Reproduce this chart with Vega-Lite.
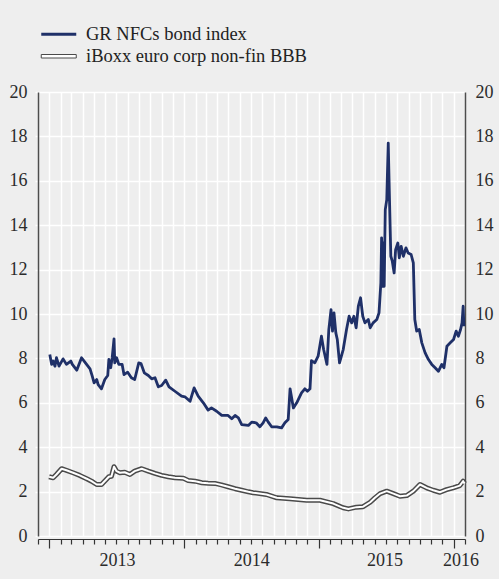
{
  "$schema": "https://vega.github.io/schema/vega-lite/v6.json",
  "width": 427,
  "height": 444,
  "autosize": {"type": "none"},
  "padding": {"left": 38, "top": 92, "right": 34, "bottom": 43},
  "background": "#eeeeee",
  "config": {
    "view": {"stroke": null, "fill": "#eeeeee"},
    "font": "Liberation Serif",
    "axis": {
      "labelFont": "Liberation Serif",
      "labelFontSize": 18,
      "labelColor": "#2b2b2b",
      "title": null,
      "gridColor": "#ffffff",
      "gridWidth": 1.5,
      "gridOpacity": 1
    }
  },
  "datasets": {
    "gr": [
      {"date": "2013-01-02", "v": 8.18}, {"date": "2013-01-07", "v": 7.73}, {"date": "2013-01-11", "v": 7.88},
      {"date": "2013-01-16", "v": 7.65}, {"date": "2013-01-20", "v": 8.03}, {"date": "2013-01-27", "v": 7.65},
      {"date": "2013-02-07", "v": 7.98}, {"date": "2013-02-16", "v": 7.73}, {"date": "2013-02-28", "v": 7.88},
      {"date": "2013-03-04", "v": 7.73}, {"date": "2013-03-16", "v": 7.47}, {"date": "2013-03-29", "v": 8.03},
      {"date": "2013-04-07", "v": 7.83}, {"date": "2013-04-21", "v": 7.53}, {"date": "2013-04-27", "v": 7.2},
      {"date": "2013-05-02", "v": 6.9}, {"date": "2013-05-09", "v": 7.05}, {"date": "2013-05-13", "v": 6.82},
      {"date": "2013-05-22", "v": 6.63}, {"date": "2013-05-31", "v": 7.05}, {"date": "2013-06-08", "v": 7.23},
      {"date": "2013-06-11", "v": 7.95}, {"date": "2013-06-16", "v": 7.58}, {"date": "2013-06-20", "v": 8.03},
      {"date": "2013-06-25", "v": 8.88}, {"date": "2013-06-27", "v": 7.8}, {"date": "2013-07-02", "v": 8.03},
      {"date": "2013-07-08", "v": 7.73}, {"date": "2013-07-17", "v": 7.73}, {"date": "2013-07-22", "v": 7.27},
      {"date": "2013-08-01", "v": 7.38}, {"date": "2013-08-11", "v": 7.13}, {"date": "2013-08-20", "v": 7.05},
      {"date": "2013-08-31", "v": 7.8}, {"date": "2013-09-06", "v": 7.77}, {"date": "2013-09-15", "v": 7.35},
      {"date": "2013-09-26", "v": 7.23}, {"date": "2013-10-05", "v": 7.08}, {"date": "2013-10-14", "v": 7.13},
      {"date": "2013-10-23", "v": 6.72}, {"date": "2013-11-01", "v": 6.78}, {"date": "2013-11-12", "v": 7.02},
      {"date": "2013-11-21", "v": 6.72}, {"date": "2013-12-07", "v": 6.52}, {"date": "2013-12-25", "v": 6.3},
      {"date": "2014-01-03", "v": 6.27}, {"date": "2014-01-17", "v": 6.07}, {"date": "2014-01-28", "v": 6.67},
      {"date": "2014-02-08", "v": 6.3}, {"date": "2014-02-22", "v": 6.0}, {"date": "2014-03-07", "v": 5.67},
      {"date": "2014-03-16", "v": 5.77}, {"date": "2014-03-30", "v": 5.62}, {"date": "2014-04-13", "v": 5.43},
      {"date": "2014-04-30", "v": 5.43}, {"date": "2014-05-10", "v": 5.28}, {"date": "2014-05-19", "v": 5.43},
      {"date": "2014-05-28", "v": 5.32}, {"date": "2014-06-06", "v": 5.02}, {"date": "2014-06-24", "v": 4.98},
      {"date": "2014-07-03", "v": 5.13}, {"date": "2014-07-15", "v": 5.1}, {"date": "2014-07-25", "v": 4.92},
      {"date": "2014-08-03", "v": 5.1}, {"date": "2014-08-10", "v": 5.32}, {"date": "2014-08-17", "v": 5.13},
      {"date": "2014-08-26", "v": 4.92}, {"date": "2014-09-09", "v": 4.92}, {"date": "2014-09-22", "v": 4.87},
      {"date": "2014-10-01", "v": 5.1}, {"date": "2014-10-10", "v": 5.25}, {"date": "2014-10-15", "v": 6.63},
      {"date": "2014-10-24", "v": 5.77}, {"date": "2014-11-02", "v": 6.0}, {"date": "2014-11-15", "v": 6.45},
      {"date": "2014-11-24", "v": 6.63}, {"date": "2014-12-01", "v": 6.52}, {"date": "2014-12-08", "v": 6.63},
      {"date": "2014-12-12", "v": 7.9}, {"date": "2014-12-21", "v": 7.8}, {"date": "2014-12-30", "v": 8.1},
      {"date": "2015-01-08", "v": 9.0}, {"date": "2015-01-14", "v": 8.4}, {"date": "2015-01-23", "v": 7.73},
      {"date": "2015-01-28", "v": 9.3}, {"date": "2015-02-03", "v": 10.2}, {"date": "2015-02-07", "v": 9.23},
      {"date": "2015-02-11", "v": 10.05}, {"date": "2015-02-16", "v": 9.15}, {"date": "2015-02-20", "v": 8.85},
      {"date": "2015-02-26", "v": 7.8}, {"date": "2015-03-08", "v": 8.4}, {"date": "2015-03-17", "v": 9.3},
      {"date": "2015-03-24", "v": 9.9}, {"date": "2015-03-31", "v": 9.6}, {"date": "2015-04-06", "v": 9.9},
      {"date": "2015-04-12", "v": 9.38}, {"date": "2015-04-18", "v": 10.35}, {"date": "2015-04-24", "v": 10.73},
      {"date": "2015-04-30", "v": 9.9}, {"date": "2015-05-06", "v": 9.6}, {"date": "2015-05-15", "v": 9.75},
      {"date": "2015-05-20", "v": 9.38}, {"date": "2015-05-28", "v": 9.6}, {"date": "2015-06-07", "v": 9.75},
      {"date": "2015-06-13", "v": 10.05}, {"date": "2015-06-18", "v": 11.4}, {"date": "2015-06-20", "v": 13.43},
      {"date": "2015-06-23", "v": 11.25}, {"date": "2015-06-25", "v": 13.2}, {"date": "2015-06-27", "v": 11.25},
      {"date": "2015-06-30", "v": 14.7}, {"date": "2015-07-04", "v": 15.15}, {"date": "2015-07-08", "v": 17.7},
      {"date": "2015-07-11", "v": 15.45}, {"date": "2015-07-15", "v": 12.6}, {"date": "2015-07-19", "v": 12.38},
      {"date": "2015-07-24", "v": 11.85}, {"date": "2015-07-28", "v": 12.9}, {"date": "2015-08-03", "v": 13.2},
      {"date": "2015-08-07", "v": 12.53}, {"date": "2015-08-12", "v": 13.05}, {"date": "2015-08-18", "v": 12.6},
      {"date": "2015-08-25", "v": 12.98}, {"date": "2015-08-31", "v": 12.75}, {"date": "2015-09-08", "v": 12.68},
      {"date": "2015-09-14", "v": 12.3}, {"date": "2015-09-18", "v": 9.75}, {"date": "2015-09-23", "v": 9.23},
      {"date": "2015-09-30", "v": 9.3}, {"date": "2015-10-07", "v": 8.7}, {"date": "2015-10-16", "v": 8.25},
      {"date": "2015-10-25", "v": 7.95}, {"date": "2015-11-03", "v": 7.73}, {"date": "2015-11-12", "v": 7.58},
      {"date": "2015-11-21", "v": 7.42}, {"date": "2015-11-30", "v": 7.73}, {"date": "2015-12-06", "v": 7.58},
      {"date": "2015-12-14", "v": 8.55}, {"date": "2015-12-23", "v": 8.7}, {"date": "2016-01-01", "v": 8.85},
      {"date": "2016-01-08", "v": 9.23}, {"date": "2016-01-14", "v": 9.0}, {"date": "2016-01-20", "v": 9.3},
      {"date": "2016-01-24", "v": 9.6}, {"date": "2016-01-27", "v": 10.35}, {"date": "2016-01-29", "v": 9.45}
    ],
    "ibx": [
      {"date": "2012-12-31", "v": 2.67}, {"date": "2013-01-11", "v": 2.62}, {"date": "2013-01-20", "v": 2.77},
      {"date": "2013-02-03", "v": 3.03}, {"date": "2013-02-16", "v": 2.96}, {"date": "2013-03-06", "v": 2.85},
      {"date": "2013-03-24", "v": 2.73}, {"date": "2013-04-12", "v": 2.58}, {"date": "2013-04-25", "v": 2.47},
      {"date": "2013-05-09", "v": 2.32}, {"date": "2013-05-22", "v": 2.32}, {"date": "2013-06-02", "v": 2.51},
      {"date": "2013-06-11", "v": 2.67}, {"date": "2013-06-18", "v": 2.69}, {"date": "2013-06-25", "v": 3.12},
      {"date": "2013-07-02", "v": 2.92}, {"date": "2013-07-11", "v": 2.85}, {"date": "2013-07-24", "v": 2.87},
      {"date": "2013-08-07", "v": 2.77}, {"date": "2013-08-20", "v": 2.92}, {"date": "2013-09-08", "v": 3.03},
      {"date": "2013-09-26", "v": 2.92}, {"date": "2013-10-14", "v": 2.82}, {"date": "2013-11-01", "v": 2.73},
      {"date": "2013-11-19", "v": 2.67}, {"date": "2013-12-07", "v": 2.62}, {"date": "2013-12-30", "v": 2.6},
      {"date": "2014-01-12", "v": 2.5}, {"date": "2014-01-31", "v": 2.47}, {"date": "2014-02-18", "v": 2.4},
      {"date": "2014-03-07", "v": 2.38}, {"date": "2014-03-25", "v": 2.37}, {"date": "2014-04-12", "v": 2.3},
      {"date": "2014-04-30", "v": 2.22}, {"date": "2014-05-19", "v": 2.13}, {"date": "2014-06-06", "v": 2.06},
      {"date": "2014-06-24", "v": 1.99}, {"date": "2014-07-07", "v": 1.95}, {"date": "2014-08-12", "v": 1.87},
      {"date": "2014-09-09", "v": 1.72}, {"date": "2014-10-15", "v": 1.68}, {"date": "2014-11-29", "v": 1.61},
      {"date": "2015-01-04", "v": 1.61}, {"date": "2015-02-09", "v": 1.46}, {"date": "2015-03-08", "v": 1.27},
      {"date": "2015-03-22", "v": 1.22}, {"date": "2015-04-13", "v": 1.3}, {"date": "2015-05-01", "v": 1.32},
      {"date": "2015-05-20", "v": 1.52}, {"date": "2015-06-02", "v": 1.72}, {"date": "2015-06-16", "v": 1.91},
      {"date": "2015-07-04", "v": 2.02}, {"date": "2015-07-22", "v": 1.91}, {"date": "2015-08-09", "v": 1.79},
      {"date": "2015-08-27", "v": 1.82}, {"date": "2015-09-14", "v": 2.02}, {"date": "2015-10-02", "v": 2.32},
      {"date": "2015-10-20", "v": 2.17}, {"date": "2015-11-07", "v": 2.06}, {"date": "2015-11-25", "v": 1.97},
      {"date": "2015-12-13", "v": 2.09}, {"date": "2015-12-31", "v": 2.17}, {"date": "2016-01-18", "v": 2.27},
      {"date": "2016-01-27", "v": 2.47}, {"date": "2016-01-31", "v": 2.36}
    ]
  },
  "layer": [
    {
      "data": {"name": "gr"},
      "mark": {"type": "line", "strokeWidth": 2.8, "strokeJoin": "round"},
      "encoding": {
        "x": {
          "field": "date",
          "type": "temporal",
          "scale": {"domain": [{"year": 2012, "month": 12, "date": 1}, {"year": 2016, "month": 2, "date": 1}]},
          "axis": {
            "orient": "bottom",
            "offset": 3,
            "labels": false,
            "grid": false,
            "tickCount": {"interval": "month", "step": 1},
            "domainColor": "#333333",
            "domainWidth": 1.2,
            "tickColor": "#333333",
            "tickWidth": 1.2,
            "tickSize": {"condition": {"test": "month(datum.value) === 0", "value": 9}, "value": 5}
          }
        },
        "y": {
          "field": "v",
          "type": "quantitative",
          "scale": {"domain": [0, 20], "nice": false},
          "axis": {
            "orient": "left",
            "values": [0, 2, 4, 6, 8, 10, 12, 14, 16, 18, 20],
            "grid": true,
            "domainColor": "#4d4d4d",
            "domainWidth": 1.5,
            "tickColor": "#ffffff",
            "tickWidth": 1.5,
            "tickSize": 3,
            "labelPadding": 8
          }
        },
        "color": {
          "datum": "GR NFCs bond index",
          "scale": {
            "domain": ["GR NFCs bond index", "iBoxx euro corp non-fin BBB"],
            "range": ["#1f3068", "#4a4a4a"]
          },
          "legend": {
            "orient": "none",
            "legendX": 11.5,
            "legendY": -67,
            "title": null,
            "padding": 0,
            "labelFont": "Liberation Serif",
            "labelFontSize": 18.5,
            "labelColor": "#222222",
            "labelLimit": 0,
            "symbolSize": 100,
            "labelOffset": 18,
            "rowPadding": 3,
            "encode": {
              "symbols": {
                "update": {
                  "shape": {"signal": "datum.value === 'GR NFCs bond index' ? 'M-3.5,0H3.5' : 'M-3.5,-0.35H3.5V0.35H-3.5Z'"},
                  "fill": {"signal": "datum.value === 'GR NFCs bond index' ? 'transparent' : '#ffffff'"},
                  "strokeWidth": {"signal": "datum.value === 'GR NFCs bond index' ? 3 : 1"}
                }
              }
            }
          }
        }
      }
    },
    {
      "data": {"name": "ibx"},
      "mark": {"type": "line", "strokeWidth": 5, "strokeJoin": "round"},
      "encoding": {
        "x": {
          "field": "date",
          "type": "temporal",
          "axis": {
            "orient": "bottom",
            "offset": 15,
            "values": [
              {"year": 2013, "month": 7, "date": 3},
              {"year": 2014, "month": 7, "date": 2},
              {"year": 2015, "month": 6, "date": 28},
              {"year": 2016, "month": 1, "date": 20}
            ],
            "format": "%Y",
            "labelFlush": false,
            "labelOverlap": false,
            "labelBound": false,
            "labelPadding": 0,
            "ticks": false,
            "domain": false,
            "grid": false
          }
        },
        "y": {
          "field": "v",
          "type": "quantitative",
          "axis": {
            "orient": "right",
            "values": [0, 2, 4, 6, 8, 10, 12, 14, 16, 18, 20],
            "grid": false,
            "domainColor": "#4d4d4d",
            "domainWidth": 1.5,
            "ticks": false,
            "tickSize": 0,
            "labelPadding": 10
          }
        },
        "color": {"datum": "iBoxx euro corp non-fin BBB"}
      }
    },
    {
      "data": {"name": "ibx"},
      "mark": {"type": "line", "strokeWidth": 2, "strokeJoin": "round", "color": "#ffffff"},
      "encoding": {
        "x": {
          "field": "date",
          "type": "temporal",
          "axis": {
            "orient": "bottom",
            "grid": true,
            "tickCount": {"interval": "month", "step": 1},
            "labels": false,
            "ticks": false,
            "domain": false
          }
        },
        "y": {"field": "v", "type": "quantitative", "axis": null}
      }
    }
  ],
  "resolve": {"axis": {"x": "independent", "y": "independent"}}
}
